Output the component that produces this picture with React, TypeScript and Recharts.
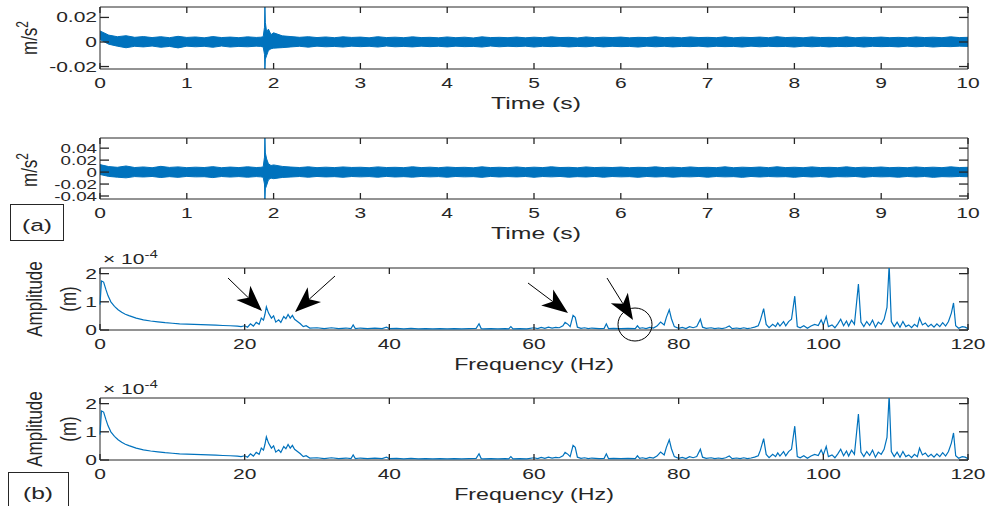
import { ComposedChart, Area, Line, XAxis, YAxis, ReferenceArea } from "recharts";

// time axis of the two acceleration records (s)
const timeS = [
  0, 0.1, 0.2, 0.3, 0.4, 0.5, 0.6, 0.7, 0.8, 0.9,
  1, 1.1, 1.2, 1.3, 1.4, 1.5, 1.6, 1.7, 1.8,
  1.85, 1.88, 1.895, 1.9, 1.905, 1.92, 1.94, 1.97,
  2, 2.1, 2.2, 2.3, 2.4, 2.5, 2.6, 2.7, 2.8, 2.9,
  3, 3.1, 3.2, 3.3, 3.4, 3.5, 3.6, 3.7, 3.8, 3.9,
  4, 4.1, 4.2, 4.3, 4.4, 4.5, 4.6, 4.7, 4.8, 4.9,
  5, 5.1, 5.2, 5.3, 5.4, 5.5, 5.6, 5.7, 5.8, 5.9,
  6, 6.1, 6.2, 6.3, 6.4, 6.5, 6.6, 6.7, 6.8, 6.9,
  7, 7.1, 7.2, 7.3, 7.4, 7.5, 7.6, 7.7, 7.8, 7.9,
  8, 8.1, 8.2, 8.3, 8.4, 8.5, 8.6, 8.7, 8.8, 8.9,
  9, 9.1, 9.2, 9.3, 9.4, 9.5, 9.6, 9.7, 9.8, 9.9,
  10,
];

// upper / lower envelope of record 1 (x 1e-3 m/s^2)
const acc1Hi = [
  9.0, 5.6, 4.3, 5.1, 3.8, 4.4, 3.6, 4.3, 3.5, 4.6,
  3.7, 4.1, 3.4, 4.4, 3.6, 4.0, 3.5, 4.2, 3.7,
  3.9, 4.2, 12, 28.5, 16, 8, 10.5, 6,
  7.5, 5.0, 4.4, 3.8, 4.3, 3.6, 4.1, 3.5, 4.2, 3.7,
  4.0, 3.4, 4.3, 3.6, 3.9, 3.5, 4.2, 3.6, 3.8, 3.4,
  4.1, 3.5, 3.9, 3.3, 4.2, 3.6, 3.8, 3.5, 4.0, 3.4,
  3.9, 3.5, 4.2, 3.6, 3.8, 3.3, 4.1, 3.5, 3.9, 3.6,
  4.0, 3.4, 3.8, 3.6, 4.2, 3.5, 3.9, 3.4, 4.1, 3.6,
  3.8, 3.5, 4.2, 3.4, 3.9, 3.6, 4.0, 3.5, 4.3, 3.6,
  3.9, 3.4, 4.1, 3.6, 3.8, 3.5, 4.2, 3.4, 3.9, 3.6,
  4.0, 3.5, 3.8, 3.4, 4.1, 3.6, 3.9, 3.5, 4.2, 3.6,
  3.8,
];
const acc1Lo = [
  2.0, -1.8, -3.4, -4.7, -3.5, -4.0, -3.3, -4.3, -3.6, -4.8,
  -3.4, -3.9, -3.5, -4.3, -3.3, -4.1, -3.6, -3.9, -3.4,
  -3.6, -4.0, -10, -22, -14, -11, -7, -5.5,
  -5.0, -4.6, -4.0, -3.5, -4.2, -3.4, -3.9, -3.6, -4.1, -3.4,
  -3.8, -3.5, -4.1, -3.3, -3.9, -3.6, -4.0, -3.4, -3.8, -3.5,
  -4.0, -3.4, -3.8, -3.6, -4.1, -3.3, -3.9, -3.5, -3.8, -3.4,
  -4.1, -3.5, -3.8, -3.4, -4.0, -3.6, -3.9, -3.3, -4.0, -3.5,
  -3.8, -3.6, -4.1, -3.4, -3.9, -3.5, -4.0, -3.6, -3.8, -3.4,
  -4.0, -3.5, -3.8, -3.6, -4.1, -3.4, -3.9, -3.5, -3.8, -3.6,
  -4.1, -3.4, -3.9, -3.5, -4.0, -3.6, -3.8, -3.4, -4.1, -3.5,
  -3.8, -3.6, -4.0, -3.4, -3.9, -3.5, -4.1, -3.6, -3.8, -3.4,
  -3.6,
];

// upper / lower envelope of record 2 (x 1e-3 m/s^2)
const acc2Hi = [
  12.5, 9.2, 8.0, 10.2, 7.6, 8.6, 7.3, 9.6, 7.8, 8.7,
  7.4, 8.2, 7.6, 9.1, 7.3, 8.4, 7.5, 8.9, 7.6,
  8.0, 8.6, 25, 57, 32, 22, 14, 11,
  12, 9.5, 8.4, 7.6, 8.8, 7.4, 8.2, 7.5, 8.6, 7.7,
  8.1, 7.3, 8.7, 7.6, 8.0, 7.4, 8.9, 7.5, 8.2, 7.3,
  8.5, 7.6, 8.0, 7.2, 8.8, 7.5, 8.1, 7.4, 8.6, 7.3,
  8.2, 7.5, 8.9, 7.6, 8.0, 7.2, 8.6, 7.5, 8.1, 7.6,
  8.4, 7.3, 8.0, 7.6, 8.8, 7.4, 8.2, 7.3, 8.6, 7.5,
  8.0, 7.4, 8.8, 7.3, 8.2, 7.6, 8.5, 7.4, 8.9, 7.5,
  8.1, 7.3, 8.7, 7.5, 8.0, 7.4, 8.8, 7.3, 8.2, 7.6,
  8.5, 7.4, 8.0, 7.3, 8.6, 7.5, 8.2, 7.4, 8.8, 7.6,
  8.0,
];
const acc2Lo = [
  -4.0, -7.2, -8.5, -9.6, -7.5, -8.2, -7.3, -9.1, -7.6, -8.8,
  -7.2, -8.0, -7.7, -9.2, -7.4, -8.3, -7.5, -8.6, -7.5,
  -8.0, -8.5, -20, -45, -28, -22, -13, -10,
  -11, -9.0, -8.2, -7.4, -8.6, -7.3, -8.1, -7.6, -8.7, -7.4,
  -8.0, -7.5, -8.6, -7.2, -8.2, -7.6, -8.5, -7.3, -8.0, -7.5,
  -8.6, -7.3, -8.0, -7.6, -8.8, -7.2, -8.2, -7.5, -8.1, -7.3,
  -8.7, -7.4, -8.0, -7.3, -8.5, -7.6, -8.2, -7.2, -8.6, -7.4,
  -8.0, -7.6, -8.7, -7.3, -8.2, -7.5, -8.5, -7.6, -8.0, -7.3,
  -8.6, -7.4, -8.0, -7.6, -8.8, -7.3, -8.2, -7.4, -8.0, -7.6,
  -8.7, -7.3, -8.2, -7.4, -8.5, -7.6, -8.0, -7.3, -8.7, -7.4,
  -8.0, -7.6, -8.6, -7.3, -8.2, -7.4, -8.8, -7.6, -8.0, -7.3,
  -7.8,
];

// amplitude spectrum (frequency in Hz, amplitude in 1e-4 m)
const freqHz = [
  0, 0.2, 0.5, 0.8, 1.1, 1.5, 2, 2.5, 3, 3.5,
  4, 5, 6, 7, 8, 9, 10, 11, 12, 13,
  14, 15, 16, 17, 18, 19, 19.5,
  20, 20.4, 20.8, 21.2, 21.6, 22.0, 22.3, 22.6, 22.8, 23.0,
  23.3, 23.7, 24.0, 24.3, 24.7, 25.0, 25.4, 25.7, 26.0, 26.3,
  26.6, 26.9, 27.3, 27.7, 28.1, 28.5, 29.0,
  30, 31, 32, 33, 34, 34.7, 35.0, 35.3, 36, 37,
  38, 39, 39.6, 40,
  41, 42, 43, 44, 45, 46, 47, 48, 49, 50,
  51, 52, 52.4, 52.7, 53, 54, 55, 56, 56.5, 56.8,
  57.1, 58, 59, 60,
  60.5, 61, 61.5, 62, 62.5, 63, 63.5, 64.0, 64.3, 64.7,
  65.0, 65.4, 65.7, 66.0, 66.5, 67, 67.5, 68, 69, 69.7,
  70.0, 70.3, 71, 72, 73, 74.0, 74.3, 74.6, 75, 75.5,
  76, 76.5, 77, 77.5, 78.0, 78.3, 78.7, 79.0, 79.4, 80,
  80.5, 81, 81.5, 82, 82.5, 83.0, 83.3, 83.8, 84.5, 85,
  85.5, 86, 86.5, 87.0, 87.4, 88, 88.5, 89, 89.5, 90,
  90.5, 91.0, 91.3, 91.75, 92.1, 92.5, 93, 93.4, 93.7, 94,
  94.5, 94.8, 95.2, 95.6, 96.05, 96.4, 96.8, 97.3, 97.8, 98.3,
  98.8, 99.3, 99.7, 100.0, 100.4, 100.7, 101.2, 101.6, 102.0, 102.4,
  102.8, 103.2, 103.5, 103.9, 104.3, 104.55, 104.85, 105.2, 105.6, 106.0,
  106.4, 106.8, 107.2, 107.6, 108.0, 108.4, 108.8, 109.1, 109.4, 109.8,
  110.2, 110.6, 111.0, 111.4, 111.8, 112.2, 112.6, 113.0, 113.3, 113.7,
  114.1, 114.5, 114.9, 115.3, 115.7, 116.1, 116.5, 116.9, 117.3, 117.7,
  118.0, 118.3, 118.7, 119.2, 119.6, 120,
];
const ampE4 = [
  0.9, 1.74, 1.7, 1.45, 1.22, 1.0, 0.84, 0.72, 0.63, 0.56,
  0.51, 0.42, 0.36, 0.32, 0.29, 0.26, 0.24, 0.22, 0.21, 0.2,
  0.19, 0.18, 0.17, 0.16, 0.15, 0.14, 0.12,
  0.15, 0.1, 0.22, 0.14, 0.27, 0.2, 0.42, 0.35, 0.55, 0.82,
  0.6, 0.42, 0.5, 0.28, 0.36, 0.27, 0.48, 0.4, 0.55, 0.42,
  0.52, 0.38, 0.3, 0.22, 0.12, 0.15, 0.07,
  0.08, 0.05, 0.08, 0.05, 0.07, 0.05, 0.18, 0.05, 0.07, 0.05,
  0.07, 0.05, 0.1, 0.05,
  0.06, 0.04, 0.06, 0.04, 0.05, 0.04, 0.05, 0.04, 0.05, 0.04,
  0.05, 0.06, 0.22, 0.05, 0.04, 0.05, 0.04, 0.05, 0.04, 0.12,
  0.04, 0.05, 0.04, 0.08,
  0.05, 0.09, 0.06, 0.1, 0.07, 0.09, 0.08, 0.15, 0.27, 0.2,
  0.12, 0.52, 0.45, 0.1, 0.06, 0.08, 0.05, 0.07, 0.05, 0.06,
  0.22, 0.05, 0.06, 0.05, 0.06, 0.05, 0.15, 0.06, 0.08, 0.05,
  0.09, 0.07, 0.14, 0.28, 0.18, 0.45, 0.72, 0.4, 0.12, 0.06,
  0.09, 0.05, 0.12, 0.08, 0.12, 0.38, 0.1, 0.06, 0.08, 0.05,
  0.07, 0.05, 0.08, 0.14, 0.05, 0.07, 0.05, 0.08, 0.05, 0.07,
  0.1, 0.15, 0.35, 0.76, 0.2, 0.08, 0.2, 0.12, 0.25, 0.14,
  0.3, 0.15, 0.3, 0.38, 1.2, 0.12, 0.08, 0.15, 0.06, 0.14,
  0.2, 0.16, 0.36, 0.18, 0.48, 0.12, 0.18, 0.08, 0.22, 0.38,
  0.15, 0.32, 0.14, 0.35, 0.2, 0.85, 1.63, 0.28, 0.12, 0.3,
  0.16, 0.35, 0.1, 0.28, 0.2, 0.38, 0.8, 2.3, 0.3, 0.12,
  0.28, 0.1, 0.3, 0.12, 0.18, 0.08, 0.2, 0.12, 0.42, 0.18,
  0.25, 0.12, 0.2, 0.1, 0.22, 0.12, 0.26, 0.14, 0.3, 0.6,
  0.96, 0.15, 0.06, 0.12, 0.1, 0.05,
];

const timeTicks = [0, 1, 2, 3, 4, 5, 6, 7, 8, 9, 10];
const freqTicks = [0, 20, 40, 60, 80, 100, 120];
const acc1Ticks = [-20, 0, 20];
const acc2Ticks = [-40, -20, 0, 20, 40];
const ampTicks = [0, 1, 2];

const BLUE = "#0072BD";
const AX = "#262626";
const FONT = '"Liberation Sans", Arial, Helvetica, sans-serif';
const SX = 1.5; // the figure is stretched horizontally
const WIDTH = 988;
const LEFT = 100;
const PLOT_W = 868;
const TOP_PAD = 7;
const X_AXIS_H = 45;

const band1 = timeS.map((t, i) => ({ t, band: [acc1Lo[i], acc1Hi[i]] }));
const band2 = timeS.map((t, i) => ({ t, band: [acc2Lo[i], acc2Hi[i]] }));
const spectrum = freqHz.map((f, i) => ({ f, a: ampE4[i] }));

const fmtAcc = (v: number) => (v === 0 ? "0" : String(v / 1000));
const fmtPlain = (v: number) => String(v);

function XTick(props: any) {
  const { x, y, payload, plotH } = props;
  return (
    <g>
      <line x1={x} y1={y} x2={x} y2={y - 6} stroke={AX} strokeWidth={1.3} />
      <line x1={x} y1={y - plotH} x2={x} y2={y - plotH + 6} stroke={AX} strokeWidth={1.3} />
      <text
        transform={`translate(${x},${y + 19}) scale(${SX},1)`}
        textAnchor="middle"
        fontSize={14}
        fontFamily={FONT}
        fill={AX}
      >
        {payload.value}
      </text>
    </g>
  );
}

function YTick(props: any) {
  const { x, y, payload, fmt, fs } = props;
  return (
    <g>
      <line x1={x} y1={y} x2={x + 9} y2={y} stroke={AX} strokeWidth={1.3} />
      <line x1={x + PLOT_W - 9} y1={y} x2={x + PLOT_W} y2={y} stroke={AX} strokeWidth={1.3} />
      <text
        transform={`translate(${x - 3},${y + fs * 0.36}) scale(${SX},1)`}
        textAnchor="end"
        fontSize={fs}
        fontFamily={FONT}
        fill={AX}
      >
        {fmt(payload.value)}
      </text>
    </g>
  );
}

function Panel(props: any) {
  const { top, plotH, data, xKey, xDomain, xTicks, yDomain, yTicks, yFmt, yFs, children } = props;
  return (
    <div style={{ position: "absolute", left: 0, top: top - TOP_PAD }}>
      <ComposedChart
        width={WIDTH}
        height={TOP_PAD + plotH + X_AXIS_H}
        data={data}
        margin={{ top: TOP_PAD, right: WIDTH - LEFT - PLOT_W, bottom: 0, left: LEFT - 10 }}
      >
        <XAxis
          dataKey={xKey}
          type="number"
          domain={xDomain}
          ticks={xTicks}
          interval={0}
          height={X_AXIS_H}
          tickSize={0}
          tickMargin={0}
          axisLine={false}
          tickLine={false}
          tick={<XTick plotH={plotH} />}
        />
        <YAxis
          type="number"
          domain={yDomain}
          ticks={yTicks}
          interval={0}
          width={10}
          tickSize={0}
          tickMargin={0}
          axisLine={false}
          tickLine={false}
          allowDataOverflow
          tick={<YTick fmt={yFmt} fs={yFs} />}
        />
        {children}
        <ReferenceArea
          x1={xDomain[0]}
          x2={xDomain[1]}
          y1={yDomain[0]}
          y2={yDomain[1]}
          fill="none"
          fillOpacity={0}
          stroke={AX}
          strokeWidth={1}
          ifOverflow="visible"
        />
      </ComposedChart>
    </div>
  );
}

function Arrow({ x1, y1, x2, y2 }: { x1: number; y1: number; x2: number; y2: number }) {
  const dx = x2 - x1;
  const dy = y2 - y1;
  const len = Math.hypot(dx, dy);
  const ux = dx / len;
  const uy = dy / len;
  const L = 26;
  const W = 10;
  const bx = x2 - ux * L;
  const by = y2 - uy * L;
  const nx = x2 - ux * (L - 7);
  const ny = y2 - uy * (L - 7);
  const pts = [
    [x2, y2],
    [bx - uy * W, by + ux * W],
    [nx, ny],
    [bx + uy * W, by - ux * W],
  ]
    .map((p) => p.join(","))
    .join(" ");
  return (
    <g>
      <line x1={x1} y1={y1} x2={nx} y2={ny} stroke="#000" strokeWidth={1} />
      <polygon points={pts} fill="#000" />
    </g>
  );
}

const titleStyle = { fontFamily: FONT, fill: AX } as const;

export default function App() {
  return (
    <div
      style={{
        position: "absolute",
        left: 0,
        top: 0,
        width: 988,
        height: 506,
        background: "#fff",
        overflow: "hidden",
      }}
    >
      <Panel top={7} plotH={62} data={band1} xKey="t" xDomain={[0, 10]} xTicks={timeTicks}
        yDomain={[-22, 28.5]} yTicks={acc1Ticks} yFmt={fmtAcc} yFs={14}>
        <Area dataKey="band" type="linear" stroke={BLUE} strokeWidth={1} fill={BLUE} fillOpacity={1}
          dot={false} activeDot={false} isAnimationActive={false} />
      </Panel>
      <Panel top={138} plotH={61} data={band2} xKey="t" xDomain={[0, 10]} xTicks={timeTicks}
        yDomain={[-45, 57]} yTicks={acc2Ticks} yFmt={fmtAcc} yFs={12.5}>
        <Area dataKey="band" type="linear" stroke={BLUE} strokeWidth={1} fill={BLUE} fillOpacity={1}
          dot={false} activeDot={false} isAnimationActive={false} />
      </Panel>
      <Panel top={268} plotH={62} data={spectrum} xKey="f" xDomain={[0, 120]} xTicks={freqTicks}
        yDomain={[0, 2.2]} yTicks={ampTicks} yFmt={fmtPlain} yFs={14}>
        <Line dataKey="a" type="linear" stroke={BLUE} strokeWidth={1.2} dot={false} activeDot={false}
          isAnimationActive={false} />
      </Panel>
      <Panel top={398} plotH={62} data={spectrum} xKey="f" xDomain={[0, 120]} xTicks={freqTicks}
        yDomain={[0, 2.2]} yTicks={ampTicks} yFmt={fmtPlain} yFs={14}>
        <Line dataKey="a" type="linear" stroke={BLUE} strokeWidth={1.2} dot={false} activeDot={false}
          isAnimationActive={false} />
      </Panel>

      <svg width={988} height={506} style={{ position: "absolute", left: 0, top: 0, pointerEvents: "none" }}>
        {/* y labels */}
        <text transform="translate(37,38) scale(1.3,1) rotate(-90)" textAnchor="middle" fontSize={17} {...titleStyle}>
          m/s<tspan dy={-7} fontSize={12}>2</tspan>
        </text>
        <text transform="translate(37,170) scale(1.3,1) rotate(-90)" textAnchor="middle" fontSize={17} {...titleStyle}>
          m/s<tspan dy={-7} fontSize={12}>2</tspan>
        </text>
        {[299, 429].map((cy) => (
          <g key={cy}>
            <text transform={`translate(42,${cy}) scale(1.3,1) rotate(-90)`} textAnchor="middle" fontSize={17} {...titleStyle}>
              Amplitude
            </text>
            <text transform={`translate(76,${cy}) scale(1.3,1) rotate(-90)`} textAnchor="middle" fontSize={17} {...titleStyle}>
              (m)
            </text>
          </g>
        ))}
        {/* exponent labels */}
        {[264, 394].map((by) => (
          <text key={by} transform={`translate(103,${by}) scale(${SX},1)`} fontSize={14} {...titleStyle}>
            × 10<tspan dy={-6} fontSize={10}>-4</tspan>
          </text>
        ))}
        {/* x titles */}
        <text transform={`translate(536,109) scale(1.55,1)`} textAnchor="middle" fontSize={16} {...titleStyle}>Time (s)</text>
        <text transform={`translate(536,239) scale(1.55,1)`} textAnchor="middle" fontSize={16} {...titleStyle}>Time (s)</text>
        <text transform={`translate(534,370) scale(1.45,1)`} textAnchor="middle" fontSize={16} {...titleStyle}>Frequency (Hz)</text>
        <text transform={`translate(534,500) scale(1.45,1)`} textAnchor="middle" fontSize={16} {...titleStyle}>Frequency (Hz)</text>
        {/* panel tags */}
        <rect x={10.5} y={204.5} width={53} height={36} fill="#fff" stroke={AX} strokeWidth={1} />
        <text transform="translate(37,231) scale(1.45,1)" textAnchor="middle" fontSize={17} {...titleStyle}>(a)</text>
        <rect x={8.5} y={472.5} width={60} height={40} fill="#fff" stroke={AX} strokeWidth={1} />
        <text transform="translate(38,499) scale(1.45,1)" textAnchor="middle" fontSize={17} {...titleStyle}>(b)</text>
        {/* annotations */}
        <Arrow x1={228} y1={278} x2={262} y2={311} />
        <Arrow x1={335} y1={276} x2={295} y2={312} />
        <Arrow x1={528} y1={283} x2={568} y2={313} />
        <Arrow x1={607} y1={278} x2={633} y2={320} />
        <ellipse cx={635} cy={324.5} rx={17} ry={16.5} fill="none" stroke="#000" strokeWidth={1} />
      </svg>
    </div>
  );
}
